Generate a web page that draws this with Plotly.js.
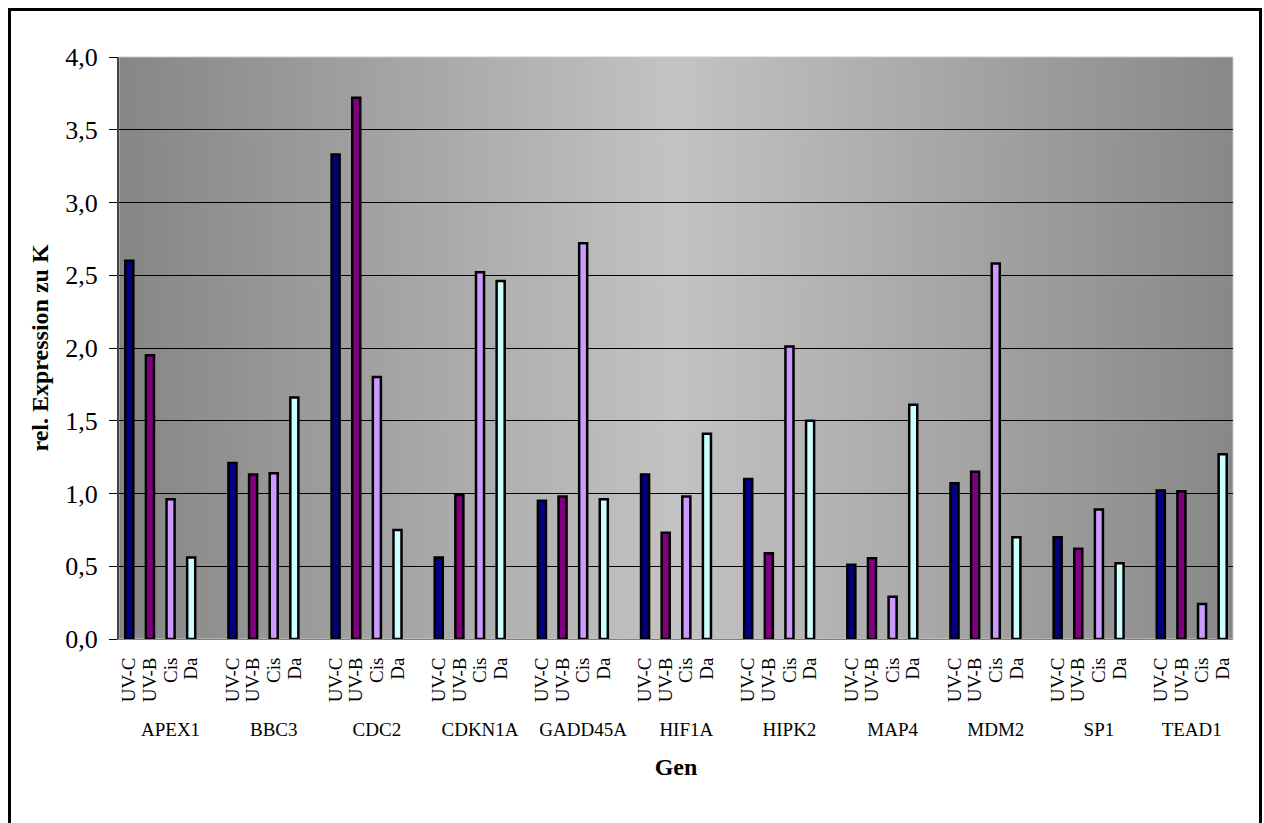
<!DOCTYPE html>
<html>
<head>
<meta charset="utf-8">
<script src="https://cdn.plot.ly/plotly-3.0.1.min.js"></script>
<style>
  html, body { margin: 0; padding: 0; background: #fff; overflow: hidden; }
  #chart { width: 1264px; height: 823px; }
</style>
</head>
<body>
<div id="chart"></div>
<script>
// ---- data ----
const genes = ['APEX1', 'BBC3', 'CDC2', 'CDKN1A', 'GADD45A', 'HIF1A', 'HIPK2', 'MAP4', 'MDM2', 'SP1', 'TEAD1'];
const treatments = ['UV-C', 'UV-B', 'Cis', 'Da'];
const uvC = [2.60, 1.21, 3.33, 0.56, 0.95, 1.13, 1.10, 0.51, 1.07, 0.70, 1.02];
const uvB = [1.95, 1.13, 3.72, 0.99, 0.98, 0.73, 0.59, 0.555, 1.15, 0.62, 1.015];
const cis = [0.96, 1.14, 1.80, 2.52, 2.72, 0.98, 2.01, 0.29, 2.58, 0.89, 0.24];
const da  = [0.56, 1.66, 0.75, 2.46, 0.96, 1.41, 1.50, 1.61, 0.70, 0.52, 1.27];
const yTicks = [0, 0.5, 1, 1.5, 2, 2.5, 3, 3.5, 4];

// ---- styles ----
const seriesColors = ['#000080', '#800080', '#cc99ff', '#ccffff'];
const FONT = 'Liberation Serif, "Times New Roman", Times, serif';

// ---- category slots: 4 bars per gene + an empty slot between genes ----
const categoryKeys = [];
const barKeys = [];
const barLabels = [];
const geneCenters = [];
genes.forEach((g, gi) => {
  const start = categoryKeys.length;
  treatments.forEach(t => {
    const k = g + '|' + t;
    categoryKeys.push(k);
    barKeys.push(k);
    barLabels.push(t);
  });
  if (gi < genes.length - 1) categoryKeys.push(g + '|gap');
  const count = categoryKeys.length - start;
  geneCenters.push(start + (count - 1) / 2);
});

const series = [uvC, uvB, cis, da];
const traces = series.map((vals, si) => ({
  type: 'bar',
  name: treatments[si],
  x: genes.map(g => g + '|' + treatments[si]),
  y: vals,
  marker: { color: seriesColors[si], line: { color: '#000', width: 2.5 } },
  hovertemplate: '%{y}<extra>' + treatments[si] + '</extra>'
}));
// empty trace so the gene-label axis exists
traces.push({ type: 'scatter', x: [], y: [], xaxis: 'x2', yaxis: 'y', showlegend: false, hoverinfo: 'skip' });

// ---- background gradient image ----
const cv = document.createElement('canvas');
cv.width = 1114; cv.height = 4;
const ctx = cv.getContext('2d');
const grd = ctx.createLinearGradient(0, 0, cv.width, 0);
grd.addColorStop(0, '#868686');
grd.addColorStop(0.5, '#c3c3c3');
grd.addColorStop(1, '#888888');
ctx.fillStyle = grd;
ctx.fillRect(0, 0, cv.width, cv.height);
const bgURL = cv.toDataURL('image/png');

const ml = 119, mr = 31, mt = 57, mb = 184;
const W = 1264, H = 823;
const pw = W - ml - mr, ph = H - mt - mb;
const px2x = p => (p - ml) / pw;
const py2y = p => (H - mb - p) / ph;

const layout = {
  width: W, height: H,
  margin: { l: ml, r: mr, t: mt, b: mb, pad: 0 },
  paper_bgcolor: '#ffffff',
  plot_bgcolor: 'rgba(0,0,0,0)',
  separators: ',.',
  showlegend: false,
  barmode: 'overlay',
  bargap: 0.61,
  font: { family: FONT, color: '#000' },
  xaxis: {
    type: 'category',
    categoryorder: 'array',
    categoryarray: categoryKeys,
    range: [-0.5, categoryKeys.length - 0.5],
    tickmode: 'array',
    tickvals: barKeys,
    ticktext: barLabels,
    tickangle: -90,
    ticks: '',
    ticklabelstandoff: 10,
    tickfont: { family: FONT, size: 19, color: '#000' },
    showgrid: false,
    zeroline: false,
    showline: true,
    linecolor: '#808080',
    linewidth: 1,
    fixedrange: true
  },
  xaxis2: {
    type: 'linear',
    overlaying: 'x',
    anchor: 'y',
    side: 'bottom',
    range: [-0.5, categoryKeys.length - 0.5],
    tickmode: 'array',
    tickvals: geneCenters,
    ticktext: genes,
    ticks: '',
    ticklabelstandoff: 77,
    tickfont: { family: FONT, size: 19, color: '#000' },
    showgrid: false,
    zeroline: false,
    showline: false,
    title: { text: '<b>Gen</b>', font: { family: FONT, size: 24, color: '#000' }, standoff: 19 },
    fixedrange: true
  },
  yaxis: {
    range: [0, 4],
    tickmode: 'array',
    tickvals: yTicks,
    tickformat: '.1f',
    ticks: 'outside',
    ticklen: 8,
    tickwidth: 1,
    tickcolor: '#000',
    ticklabelstandoff: 6,
    tickfont: { family: FONT, size: 26, color: '#000' },
    showgrid: true,
    gridcolor: '#000',
    gridwidth: 1,
    zeroline: false,
    showline: true,
    linecolor: '#444',
    linewidth: 2,
    title: { text: '<b>rel. Expression zu K</b>', font: { family: FONT, size: 24, color: '#000' }, standoff: 10 },
    fixedrange: true
  },
  images: [{
    source: bgURL,
    xref: 'paper', yref: 'paper',
    x: 0, y: 1, sizex: 1, sizey: 1,
    xanchor: 'left', yanchor: 'top',
    sizing: 'stretch',
    layer: 'below'
  }],
  shapes: [
    { type: 'rect', xref: 'paper', yref: 'paper', x0: 0, x1: 1, y0: 0, y1: 1,
      line: { color: '#c8c8c8', width: 1 }, layer: 'below' },
    { type: 'rect', xref: 'paper', yref: 'paper',
      x0: px2x(9.5), x1: px2x(1260.5), y0: py2y(9.5), y1: py2y(840),
      line: { color: '#000', width: 3 }, fillcolor: 'rgba(0,0,0,0)' }
  ]
};

Plotly.newPlot('chart', traces, layout, { displayModeBar: false, staticPlot: false });
</script>
</body>
</html>
